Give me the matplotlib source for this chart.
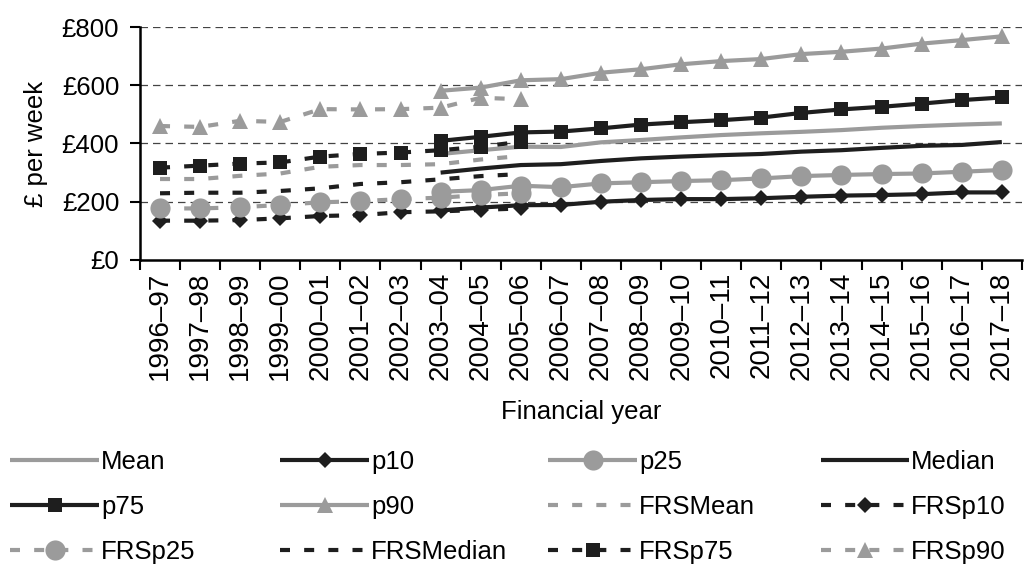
import matplotlib
matplotlib.use("Agg")
import matplotlib.pyplot as plt
import numpy as np

plt.rcParams['font.family'] = ['Liberation Sans', 'DejaVu Sans']

years = ['1996–97', '1997–98', '1998–99', '1999–00', '2000–01', '2001–02',
         '2002–03', '2003–04', '2004–05', '2005–06', '2006–07', '2007–08',
         '2008–09', '2009–10', '2010–11', '2011–12', '2012–13', '2013–14',
         '2014–15', '2015–16', '2016–17', '2017–18']

# FRS series: 1996-97 to 2005-06
frs_mean = [278, 278, 289, 297, 320, 326, 326, 329, 345, 357]
frs_p10 = [135, 135, 137, 143, 151, 154, 164, 167, 172, 177]
frs_p25 = [177, 177, 181, 189, 198, 202, 209, 214, 223, 229]
frs_median = [229, 231, 231, 237, 246, 261, 267, 277, 288, 295]
frs_p75 = [317, 324, 331, 335, 355, 364, 369, 377, 389, 406]
frs_p90 = [460, 457, 478, 474, 518, 517, 518, 523, 557, 552]

# survey series: 2003-04 to 2017-18
mean = [364, 377, 389, 388, 404, 412, 421, 429, 435, 440, 446, 454, 460, 465, 469]
p10 = [170, 180, 188, 189, 200, 206, 209, 209, 212, 217, 221, 223, 226, 232, 232]
p25 = [234, 240, 255, 250, 263, 267, 271, 274, 280, 288, 292, 295, 297, 303, 309]
median = [300, 314, 326, 329, 340, 349, 355, 360, 364, 372, 377, 385, 392, 395, 405]
p75 = [409, 423, 438, 441, 452, 465, 473, 480, 489, 505, 517, 526, 537, 549, 558]
p90 = [581, 592, 617, 621, 643, 655, 672, 683, 690, 707, 715, 726, 743, 755, 768]

GREY = '#9b9b9b'
BLACK = '#1e1e1e'
LW = 3.0
DASH = (0, (2.4, 3.4))
FS = 18.5

x_frs = np.arange(len(frs_mean))
x_new = np.arange(7, 7 + len(mean))

fig = plt.figure(figsize=(10.27, 5.71), dpi=100)
ax = fig.add_axes([0.1363, 0.5447, 0.8587, 0.408])

# (label, x, y, colour, linestyle, marker, markersize)
series = [
    ('Mean', x_new, mean, GREY, '-', None, 0),
    ('p10', x_new, p10, BLACK, '-', 'D', 8),
    ('p25', x_new, p25, GREY, '-', 'o', 14.5),
    ('Median', x_new, median, BLACK, '-', None, 0),
    ('p75', x_new, p75, BLACK, '-', 's', 10.5),
    ('p90', x_new, p90, GREY, '-', '^', 11),
    ('FRSMean', x_frs, frs_mean, GREY, DASH, None, 0),
    ('FRSp10', x_frs, frs_p10, BLACK, DASH, 'D', 8),
    ('FRSp25', x_frs, frs_p25, GREY, DASH, 'o', 14.5),
    ('FRSMedian', x_frs, frs_median, BLACK, DASH, None, 0),
    ('FRSp75', x_frs, frs_p75, BLACK, DASH, 's', 10.5),
    ('FRSp90', x_frs, frs_p90, GREY, DASH, '^', 11),
]

handles = []
for label, xs, ys, col, ls, mk, ms in series:
    ln, = ax.plot(xs, ys, color=col, linestyle=ls, linewidth=LW, marker=mk,
                  markersize=ms, markeredgewidth=0, label=label,
                  solid_capstyle='butt', dash_capstyle='butt', zorder=3)
    handles.append(ln)

ax.set_ylim(0, 800)
ax.set_yticks([0, 200, 400, 600, 800])
ax.set_yticklabels(['£0', '£200', '£400', '£600', '£800'], fontsize=FS)
ax.set_xlim(-0.5, len(years) - 0.5)
ax.set_xticks(np.arange(len(years)))
ax.set_xticklabels(years, rotation=90, fontsize=20)
ax.set_xticks(np.arange(-0.5, len(years)), minor=True)
ax.tick_params(axis='x', which='major', length=0, pad=8.5)
ax.tick_params(axis='x', which='minor', length=7, width=1.5, direction='out')
ax.tick_params(axis='y', length=7, width=1.5, direction='out', pad=8)

for v in [200, 400, 600, 800]:
    ax.axhline(v, color='#444444', linewidth=0.9, linestyle=(0, (6, 4)), zorder=1)

for s in ['top', 'right']:
    ax.spines[s].set_visible(False)
for s in ['left', 'bottom']:
    ax.spines[s].set_linewidth(1.8)

ax.set_ylabel('£ per week', fontsize=FS, labelpad=10)
ax.set_xlabel('Financial year', fontsize=FS, labelpad=14)

# legend: 4 columns laid out row by row
col_x = [0.01, 0.273, 0.534, 0.799]
for c in range(4):
    hs = [handles[r * 4 + c] for r in range(3)]
    fig.legend(handles=hs, loc='upper left', bbox_to_anchor=(col_x[c], 0.212),
               frameon=False, fontsize=FS, handlelength=3.45, handletextpad=0.08,
               labelspacing=0.82, numpoints=1, borderaxespad=0, borderpad=0)

fig.savefig('out.png', dpi=100)
